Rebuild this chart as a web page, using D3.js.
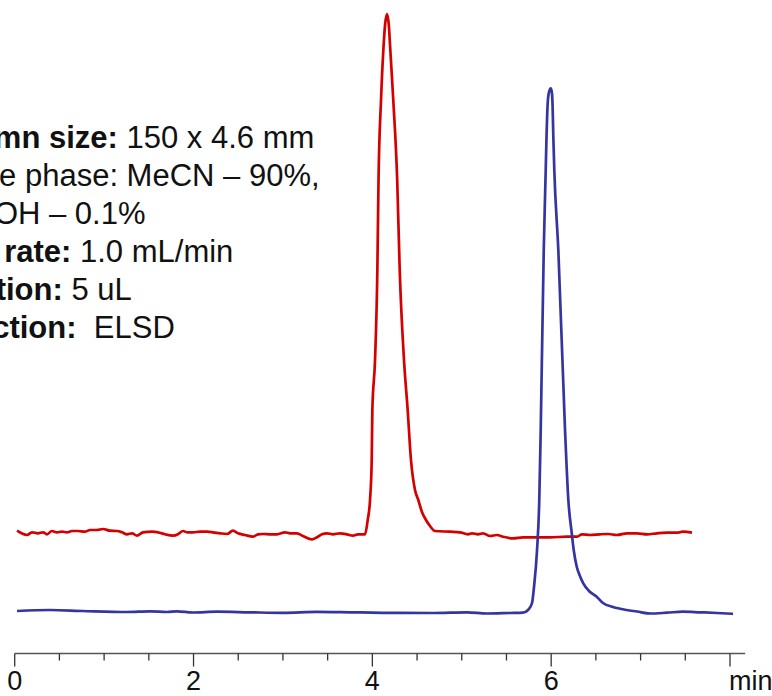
<!DOCTYPE html>
<html>
<head>
<meta charset="utf-8">
<script src="https://cdn.jsdelivr.net/npm/d3@7"></script>
<style>
  html, body { margin: 0; padding: 0; background: #fff; overflow: hidden; }
  svg { display: block; }
</style>
</head>
<body>
<div id="chart"></div>
<script>
// Chromatogramm: zwei Spuren (rot / blau), Zeitachse in min

// --- Daten: [Zeit (min), Signal] ---
const redTrace = [
  [0.026, 79.3], [0.138, 75], [0.193, 77.7], [0.261, 76.7], [0.317, 77.7], [0.361, 75.7],
  [0.417, 79], [0.473, 77.7], [0.529, 78.3], [0.585, 77.7], [0.641, 79], [0.708, 79],
  [0.786, 78.3], [0.842, 80], [0.920, 80], [0.988, 81], [1.066, 79.3], [1.144, 79],
  [1.200, 77.7], [1.256, 75.7], [1.312, 76.7], [1.368, 74.3], [1.435, 77.7], [1.536, 78.3],
  [1.603, 77.7], [1.681, 75.7], [1.770, 74.3], [1.826, 75.7], [1.882, 79], [1.927, 77.7],
  [1.994, 77.7], [2.073, 78.3], [2.151, 78.3], [2.218, 77.7], [2.296, 76.7], [2.375, 76],
  [2.441, 79.3], [2.497, 76.7], [2.576, 75], [2.665, 73.3], [2.721, 75.7], [2.777, 76],
  [2.855, 75.7], [2.934, 75.7], [3.023, 77.7], [3.079, 76.7], [3.157, 76.7], [3.224, 74],
  [3.325, 70.7], [3.381, 72.7], [3.437, 75.7], [3.493, 76.7], [3.560, 75.7], [3.638, 76.7],
  [3.716, 75.7], [3.783, 74.3], [3.839, 75.7], [3.918, 75.7],
  [3.948, 90], [3.974, 110], [3.993, 150], [4.000, 200], [4.030, 250], [4.056, 340],
  [4.069, 430], [4.097, 510], [4.123, 560], [4.142, 585], [4.164, 596], [4.184, 585],
  [4.201, 560], [4.234, 510], [4.278, 430], [4.306, 340], [4.354, 250], [4.395, 200],
  [4.432, 150], [4.477, 120], [4.514, 110], [4.555, 98], [4.600, 90], [4.645, 84],
  [4.701, 79], [4.869, 78.3], [4.980, 77.7], [5.070, 75.7], [5.115, 76.7], [5.182, 75.7],
  [5.238, 76.7], [5.316, 74], [5.394, 75], [5.461, 73.3], [5.573, 71.7], [5.685, 72.7],
  [5.841, 72.7], [5.987, 72.7], [6.177, 73.3], [6.289, 73.3], [6.345, 75.7], [6.434, 75],
  [6.546, 75.7], [6.636, 76], [6.736, 75], [6.848, 76.7], [6.960, 76.7], [7.072, 75.7],
  [7.184, 76.7], [7.295, 77.3], [7.407, 77.3], [7.474, 78.3], [7.575, 77.3]
];

const blueTrace = [
  [0.026, -1], [0.395, 0], [0.764, -1], [1.256, -2], [1.513, -1.3], [1.703, -2],
  [1.815, -1.3], [1.994, -2.5], [2.262, -1.7], [2.632, -2.3], [3.001, -2.8], [3.381, -1.9],
  [3.750, -2.3], [4.119, -2.8], [4.679, -3], [5.059, -2.3], [5.282, -3.5], [5.540, -3],
  [5.685, -2.7], [5.741, 0], [5.786, 7], [5.808, 23], [5.842, 60], [5.867, 110],
  [5.883, 180], [5.917, 360], [5.939, 440], [5.948, 473.3], [5.961, 506.7], [5.976, 518],
  [5.995, 521.7], [6.007, 518], [6.015, 506.7], [6.024, 473.3], [6.035, 440], [6.080, 360],
  [6.155, 180], [6.192, 110], [6.230, 77], [6.252, 60], [6.286, 43.3], [6.317, 35],
  [6.359, 26.7], [6.423, 19], [6.509, 13.3], [6.580, 7], [6.692, 3], [6.845, 0],
  [6.960, -1.5], [7.106, -3.5], [7.295, -2.7], [7.474, -1.7], [7.664, -2.3], [7.855, -3],
  [8.034, -3.8]
];

const majorTicks = [0, 2, 4, 6, 8];
const minorTicks = [0.5, 1, 1.5, 2.5, 3, 3.5, 4.5, 5, 5.5, 6.5, 7, 7.5];
const tickLabels = ['0', '2', '4', '6', 'min'];

// Methodentext: [fett, normal]
const infoLines = [
  ['Column size:', ' 150 x 4.6 mm'],
  ['', 'Mobile phase: MeCN \u2013 90%,'],
  ['', 'HCOOH \u2013 0.1%'],
  ['Flow rate:', ' 1.0 mL/min'],
  ['Injection:', ' 5 uL'],
  ['Detection:', '  ELSD']
];

// --- Maße ---
const width  = 772;
const height = 696;
const font   = 'Arial, "Liberation Sans", sans-serif';

const svg = d3.select('#chart')
  .append('svg')
  .attr('width',  width)
  .attr('height', height);

const x = d3.scaleLinear().domain([0, 8.17]).range([14.7, 745.2]);
const y = d3.scaleLinear().domain([-30, 610]).range([640, 0]);

// --- Spuren ---
const line = d3.line()
  .x(d => x(d[0]))
  .y(d => y(d[1]))
  .curve(d3.curveMonotoneX);

svg.append('path')
  .datum(redTrace)
  .attr('fill', 'none')
  .attr('stroke', '#d40000')
  .attr('stroke-width', 2.7)
  .attr('stroke-linejoin', 'round')
  .attr('d', line);

svg.append('path')
  .datum(blueTrace)
  .attr('fill', 'none')
  .attr('stroke', '#3535a0')
  .attr('stroke-width', 2.7)
  .attr('stroke-linejoin', 'round')
  .attr('d', line);

// --- Zeitachse ---
const axisY = 653.5;
const axis = svg.append('g').attr('class', 'axis');

axis.append('line')
  .attr('x1', x.range()[0])
  .attr('x2', x.range()[1])
  .attr('y1', axisY)
  .attr('y2', axisY)
  .attr('stroke', '#555')
  .attr('stroke-width', 1.5);

axis.selectAll('.major')
  .data(majorTicks)
  .enter()
  .append('line')
  .attr('class', 'major')
  .attr('x1', d => x(d))
  .attr('x2', d => x(d))
  .attr('y1', axisY)
  .attr('y2', axisY + 13)
  .attr('stroke', '#333')
  .attr('stroke-width', 1.3);

axis.selectAll('.minor')
  .data(minorTicks)
  .enter()
  .append('line')
  .attr('class', 'minor')
  .attr('x1', d => x(d))
  .attr('x2', d => x(d))
  .attr('y1', axisY)
  .attr('y2', axisY + 7)
  .attr('stroke', '#333')
  .attr('stroke-width', 1.3);

axis.selectAll('.tick-label')
  .data(majorTicks)
  .enter()
  .append('text')
  .attr('class', 'tick-label')
  .attr('x', (d, i) => tickLabels[i] === 'min' ? x(d) - 1 : x(d))
  .attr('y', 690)
  .attr('text-anchor', (d, i) => tickLabels[i] === 'min' ? 'start' : 'middle')
  .attr('font-family', font)
  .attr('font-size', '27px')
  .attr('fill', '#111')
  .text((d, i) => tickLabels[i]);

// --- Methodentext (links abgeschnitten wie im Original) ---
const info = svg.append('g').attr('class', 'info');
infoLines.forEach((l, i) => {
  const t = info.append('text')
    .attr('x', -75)
    .attr('y', 148 + i * 38)
    .attr('font-family', font)
    .attr('font-size', '31px')
    .attr('fill', '#111')
    .style('white-space', 'pre');
  if (l[0]) t.append('tspan').attr('font-weight', 'bold').text(l[0]);
  t.append('tspan').text(l[1]);
});
</script>
</body>
</html>
